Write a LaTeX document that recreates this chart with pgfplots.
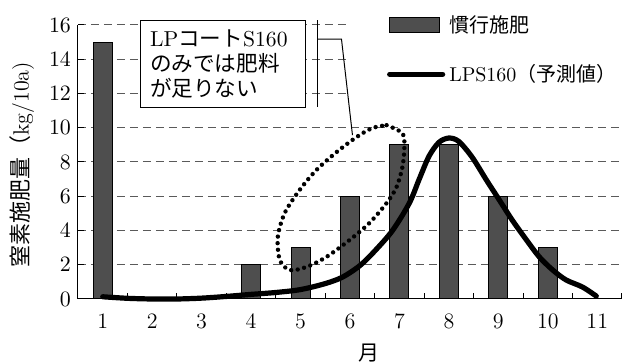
\documentclass[border=0pt]{standalone}
\usepackage{pgfplots}
\pgfplotsset{compat=1.18}
\usepackage{fontspec}
\newfontfamily\cjk{Noto Sans CJK JP}
\definecolor{barcol}{RGB}{78,78,78}
\definecolor{gridcol}{RGB}{90,90,90}
\begin{document}
\begin{tikzpicture}
\begin{axis}[
  scale only axis,
  width=272pt, height=137pt,
  at={(0,0)}, anchor=south west,
  xmin=0.5, xmax=11.5, ymin=0, ymax=16,
  axis x line=bottom, axis y line=left,
  axis line style={-, line width=0.5pt, black},
  xtick={1.5,2.5,...,11.5}, xticklabels={},
  extra x ticks={1,2,...,11},
  extra x tick style={major tick length=0pt, grid=none, tick label style={yshift=-4pt}},
  extra x tick labels={1,2,3,4,5,6,7,8,9,10,11},
  ytick={0,2,...,16},
  tick align=inside,
  major tick length=3pt,
  tick style={black, line width=0.5pt},
  ymajorgrids,
  grid style={gridcol, line width=0.5pt, dash pattern=on 4pt off 2.5pt},
  tick label style={font=\fontsize{11}{12}\selectfont},
  clip=false,
  ylabel={{\cjk 窒素施肥量（}kg/10a)},
  ylabel style={at={(axis description cs:-0.103,0.49)}, anchor=center, font=\fontsize{11}{13}\selectfont},
  xlabel={{\cjk 月}},
  xlabel style={at={(axis description cs:0.535,0)}, anchor=center, yshift=-27pt, font=\fontsize{10.5}{12}\selectfont},
  legend style={at={(axis cs:6.62,17.05)}, anchor=north west, draw=none, fill=none,
    font=\fontsize{10}{12}\selectfont, row sep=10.5pt, legend cell align=left},
]
\addplot[ybar, bar width=9.5pt, bar shift=0pt, draw=black, line width=0.5pt, fill=barcol,
  legend image code/.code={\draw[black, line width=0.5pt, fill=barcol] (0pt,-3.75pt) rectangle (25pt,3.75pt);}]
  coordinates {(1,15) (4,2) (5,3) (6,6) (7,9) (8,9) (9,6) (10,3)};
\addlegendentry{{\cjk 慣行施肥}}
\addplot[black, line width=2.6pt, smooth, line cap=round,
  legend image code/.code={\draw[black, line width=2.6pt] (0pt,0pt) -- (26.5pt,0pt);}]
  coordinates {(1,0.13) (1.5,0.04) (2,0.0) (2.5,0.0) (3,0.05) (3.5,0.15) (4,0.27) (4.5,0.38)
   (5,0.55) (5.5,0.9) (5.85,1.28) (6.2,1.95) (6.5,2.8) (6.86,4.0) (7.2,5.6) (7.4,7.0)
   (7.6,8.35) (7.8,9.15) (8.0,9.4) (8.2,9.2) (8.47,8.28) (8.76,6.94) (9.02,5.78) (9.28,4.61)
   (9.57,3.44) (9.83,2.45) (10.1,1.69) (10.37,1.11) (10.7,0.7) (10.98,0.17)};
\addlegendentry{LPS160{\cjk （予測値）}}
\addplot[black, line width=2.2pt, smooth, line cap=round, dash pattern=on 0pt off 3.3pt, forget plot]
  coordinates {(6.74,10.15) (7.06,9.68) (7.10,8.87) (7.06,7.70) (6.94,6.53) (6.74,5.60)
   (6.39,4.43) (5.99,3.44) (5.52,2.45) (5.12,1.87) (4.78,1.69) (4.58,2.28) (4.54,3.62)
   (4.68,5.02) (4.98,6.36) (5.32,7.53) (5.73,8.58) (6.13,9.45) (6.45,9.98) (6.74,10.15)};
\fill[white] (axis cs:5.93,10.9) rectangle (axis cs:11.5,17.6);
\node[draw=black, line width=0.5pt, fill=white, anchor=north west, minimum width=82.5pt,
  minimum height=43.5pt, text width=72.5pt, inner xsep=5pt, inner ysep=0pt, align=left,
  font=\fontsize{10.8}{12.5}\selectfont] at (axis cs:1.747,16.28)
  {LP{\cjk コート}S160\\{\cjk のみでは肥料}\\{\cjk が足りない}};
\draw[black, line width=0.5pt] (axis cs:5.343,16.28) -- (axis cs:5.343,11.2);
\draw[black, line width=0.5pt] (axis cs:5.343,15.17) -- (axis cs:5.828,15.17) -- (axis cs:6.05,9.57);
\end{axis}
\pgfresetboundingbox
\path[use as bounding box] (-39pt,-32pt) rectangle (272.5pt,149.5pt);
\end{tikzpicture}
\end{document}
